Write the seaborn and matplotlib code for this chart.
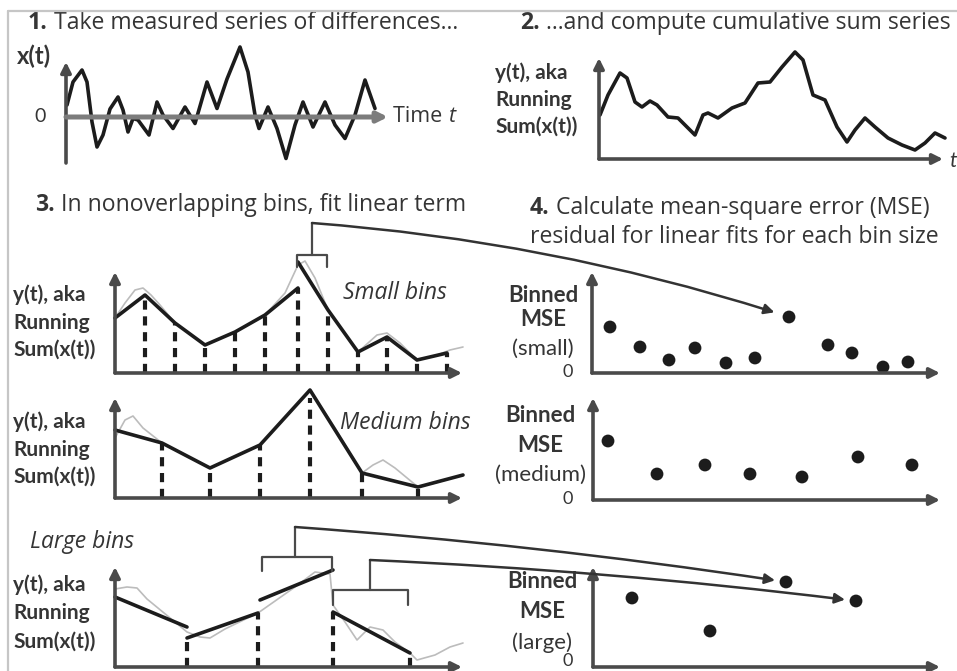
import matplotlib.pyplot as plt
import pandas as pd
import seaborn as sns
from matplotlib.patches import ConnectionPatch
from matplotlib.lines import Line2D

sns.set_theme(style='white')
plt.rcParams['font.family'] = ['Lato', 'DejaVu Sans']

W, H = 957, 671
INK = '#1c1c1c'
AXIS = '#4a4a4a'
GREY = '#bcbcbc'
TXT = '#353535'
TFONT = ['Open Sans', 'DejaVu Sans']

# 1. measured series of differences x(t)
diff_t = [1, 7, 16, 21, 26, 31, 37, 44, 52, 57, 62, 67, 72, 83, 91, 97, 107, 119, 129,
          141, 151, 161, 174, 182, 189, 193, 202, 211, 220, 229, 237, 247, 259, 269,
          279, 289, 299, 309]
diff_x = [12, 35, 47, 35, -5, -30, -18, 8, 20, 7, -15, -1.5, -3, -18, 15, 2, -11.5, 10, -6.5,
          35, 8.5, 38, 70, 45, 2, -11.5, 10, -11.5, -41.5, -8, 15, -10, 15, -8,
          -21.5, 2, 37, 8.5]

# 2. running sum y(t)
cum_t = [1, 9, 21, 28, 36, 43, 51, 58, 69, 79, 96, 104, 109, 119, 133, 146, 159, 171,
         183, 196, 204, 214, 226, 238, 248, 256, 266, 276, 289, 303, 316, 326, 336, 346]
cum_y = [44, 64, 86, 81, 57, 52, 58, 54, 42, 41, 24, 44, 46, 41, 51, 56, 76, 77,
         92, 107, 99, 64, 59, 32, 17, 29, 41, 32, 21, 14, 9, 16, 26, 21]

# 3. linear fits in bins (small / medium / large)
small_raw_t = [0, 10, 20, 28, 36, 45, 60, 90, 120, 150, 170, 183, 190, 200, 213,
               243, 262, 272, 285, 302, 320, 335, 348]
small_raw_v = [55, 70, 83, 85, 78, 68, 50, 28, 41, 58, 80, 108, 112, 95, 63,
               21, 38, 40, 30, 13, 17, 23, 26]
small_fit_seg = [0, 0, 0, 0, 0, 0, 0, 1, 1, 1, 1, 1, 1]
small_fit_t = [0, 30, 60, 90, 120, 150, 183, 183, 213, 243, 272, 302, 332]
small_fit_v = [55, 78, 50, 28, 41, 58, 85, 111, 63, 21, 36, 13, 20]
small_edges = [30, 60, 90, 120, 150, 183, 213, 243, 272, 302, 332]
small_edge_v = [78, 50, 28, 41, 58, 85, 63, 21, 36, 13, 20]

medium_raw_t = [0, 10, 18, 28, 47, 95, 145, 195, 220, 247, 258, 268, 280, 303, 320, 348]
medium_raw_v = [60, 78, 82, 70, 55, 30, 53, 108, 70, 25, 33, 38, 30, 11, 15, 23]
medium_fit_t = [0, 47, 95, 145, 195, 247, 303, 348]
medium_fit_v = [68, 55, 30, 53, 108, 25, 11, 23]
medium_edges = [47, 95, 145, 195, 247, 303]
medium_edge_v = [55, 30, 53, 108, 25, 11]

large_raw_t = [0, 12, 22, 32, 60, 72, 85, 95, 110, 143, 180, 200, 215, 218, 230,
               242, 255, 268, 280, 295, 302, 320, 335, 348]
large_raw_v = [78, 80, 79, 68, 45, 35, 30, 29, 38, 54, 80, 95, 93, 62, 45,
               27, 40, 37, 25, 14, 7, 12, 20, 24]
large_fit_seg = [0, 0, 1, 1, 2, 2, 3, 3]
large_fit_t = [0, 72, 72, 143, 145, 218, 218, 295]
large_fit_v = [70, 40, 29, 54, 67, 97, 55, 14]
large_edges = [72, 143, 218, 295]
large_edge_v = [29, 54, 55, 14]

# 4. binned MSE per bin
mse_small_t = [18, 48, 77, 103, 134, 163, 197, 236, 260, 291, 316]
mse_small_v = [46, 26, 13, 25, 10, 15, 56, 28, 20, 6, 11]
mse_medium_t = [15, 64, 112, 157, 209, 265, 319]
mse_medium_v = [59, 26, 35, 26, 23, 43, 35]
mse_large_t = [39, 117, 193, 263]
mse_large_v = [69, 36, 85, 66]

fig = plt.figure(figsize=(W / 100, H / 100), dpi=100)
fig.patch.set_facecolor('white')

# overlay in pixel coords for text
ov = fig.add_axes([0, 0, 1, 1])
ov.set_xlim(0, W)
ov.set_ylim(H, 0)
ov.axis('off')

fig.add_artist(Line2D([8 / W, 1], [1 - 11 / H, 1 - 11 / H], color='#c6c6c6', lw=1.6))
fig.add_artist(Line2D([8 / W, 8 / W], [0, 1 - 11 / H], color='#c6c6c6', lw=1.6))


def panel(x0, y0, x1, y1, ylo=0):
    ax = fig.add_axes([x0 / W, 1 - y1 / H, (x1 - x0) / W, (y1 - y0) / H])
    ax.set_xlim(0, x1 - x0)
    ax.set_ylim(ylo, ylo + (y1 - y0))
    ax.axis('off')
    return ax


def arrows(ax, y0=0, hcolor=AXIS, hlw=2.6):
    xmax = ax.get_xlim()[1]
    ylo, yhi = ax.get_ylim()
    ap = dict(arrowstyle='-|>,head_length=0.5,head_width=0.25', color=AXIS, lw=2.6,
              shrinkA=0, shrinkB=0, mutation_scale=12)
    ax.annotate('', xy=(0, yhi), xytext=(0, ylo), arrowprops=ap, annotation_clip=False)
    ap2 = dict(ap, color=hcolor, lw=hlw)
    ax.annotate('', xy=(xmax, y0), xytext=(0, y0), arrowprops=ap2, annotation_clip=False)


def title(x, y, num, rest):
    t = ov.text(x, y, num, fontsize=16.6, fontweight='bold', family=TFONT, color=TXT, va='center')
    ov.annotate(rest, xy=(1, 0.5), xycoords=t, fontsize=16.6, family=TFONT, color=TXT, va='center')


def ylabel3(x, ys, lines, ha='left', weights=('bold', 'bold', 'bold'), size=15):
    for yy, s, w in zip(ys, lines, weights):
        ov.text(x, yy, s, fontsize=size, fontweight=w, color=TXT, ha=ha, va='center')


def italic(x, y, s):
    ov.text(x, y, s, fontsize=16.5, style='italic', family=TFONT, color=TXT, va='center')


# ---- panel 1
ax1 = panel(66, 62, 388, 163, ylo=-46)
arrows(ax1, 0, hcolor='#7c7c7c', hlw=3.6)
sns.lineplot(x=diff_t, y=diff_x, ax=ax1, color=INK, lw=2.6, sort=False, clip_on=False)
title(28, 23, '1.', ' Take measured series of differences...')
ov.text(17, 56, 'x(t)', fontsize=17, fontweight='bold', color=TXT, va='center')
ov.text(40, 117, '0', fontsize=14, color=TXT, ha='center', va='center')
tt = ov.text(393, 117, 'Time ', fontsize=15.5, family=TFONT, color=TXT, va='center')
ov.annotate('t', xy=(1, 0.5), xycoords=tt, fontsize=15.5, family=TFONT, style='italic',
            color=TXT, va='center')

# ---- panel 2
ax2 = panel(599, 58, 943, 159)
arrows(ax2)
sns.lineplot(x=cum_t, y=cum_y, ax=ax2, color=INK, lw=2.6, sort=False, clip_on=False)
title(520, 23, '2.', ' ...and compute cumulative sum series')
ylabel3(495, [73, 100, 127], ['y(t), aka', 'Running', 'Sum(x(t))'])
ov.text(949, 161, 't', fontsize=15, style='italic', color=TXT, va='center')

# ---- panel 3
title(35, 205, '3.', ' In nonoverlapping bins, fit linear term')
bin_labels = ['y(t), aka', 'Running', 'Sum(x(t))']

ax_s = panel(115, 272, 462, 373)
arrows(ax_s)
sns.lineplot(x=small_raw_t, y=small_raw_v, ax=ax_s, color=GREY, lw=1.2, sort=False, clip_on=False)
df_s = pd.DataFrame({'t': small_fit_t, 'v': small_fit_v, 'seg': small_fit_seg})
sns.lineplot(data=df_s, x='t', y='v', units='seg', estimator=None, ax=ax_s, color=INK,
             lw=2.6, sort=False, clip_on=False)
ax_s.vlines(small_edges, 0, small_edge_v, colors=INK, linestyles=(0, (2.2, 1.6)), lw=3)
# bracket on the peak bin
ax_s.plot([182, 182, 212, 212], [106, 118, 118, 106], color=AXIS, lw=1.6, clip_on=False)
ax_s.plot([197, 197], [118, 150], color=AXIS, lw=1.6, clip_on=False)
ylabel3(13, [295, 323, 350], bin_labels)
italic(343, 293, 'Small bins')

ax_m = panel(115, 398, 462, 498)
arrows(ax_m)
sns.lineplot(x=medium_raw_t, y=medium_raw_v, ax=ax_m, color=GREY, lw=1.2, sort=False, clip_on=False)
sns.lineplot(x=medium_fit_t, y=medium_fit_v, ax=ax_m, color=INK, lw=2.6, sort=False, clip_on=False)
ax_m.vlines(medium_edges, 0, medium_edge_v, colors=INK, linestyles=(0, (2.2, 1.6)), lw=3)
ylabel3(13, [422, 450, 477], bin_labels)
italic(340, 423, 'Medium bins')

ax_l = panel(115, 567, 462, 667)
arrows(ax_l)
sns.lineplot(x=large_raw_t, y=large_raw_v, ax=ax_l, color=GREY, lw=1.2, sort=False, clip_on=False)
df_l = pd.DataFrame({'t': large_fit_t, 'v': large_fit_v, 'seg': large_fit_seg})
sns.lineplot(data=df_l, x='t', y='v', units='seg', estimator=None, ax=ax_l, color=INK,
             lw=2.6, sort=False, clip_on=False)
ax_l.vlines(large_edges, 0, large_edge_v, colors=INK, linestyles=(0, (2.2, 1.6)), lw=3)
ax_l.plot([147, 147, 217, 217], [96, 110, 110, 96], color=AXIS, lw=1.6, clip_on=False)
ax_l.plot([180, 180], [110, 140], color=AXIS, lw=1.6, clip_on=False)
ax_l.plot([218, 218, 293, 293], [62, 77, 77, 62], color=AXIS, lw=1.6, clip_on=False)
ax_l.plot([255, 255], [77, 107], color=AXIS, lw=1.6, clip_on=False)
ylabel3(13, [585, 613, 642], bin_labels)
italic(30, 542, 'Large bins')

# ---- panel 4
title(530, 208, '4.', ' Calculate mean-square error (MSE)')
ov.text(530, 237, 'residual for linear fits for each bin size', fontsize=16.6, family=TFONT,
        color=TXT, va='center')

mse_w = ('bold', 'bold', 'normal')
ax_ms = panel(592, 272, 940, 373)
arrows(ax_ms)
sns.scatterplot(x=mse_small_t, y=mse_small_v, ax=ax_ms, color=INK, s=85, edgecolor='none', clip_on=False)
ylabel3(543, [296, 320, 349], ['Binned', 'MSE', '(small)'], ha='center', weights=mse_w, size=16)
ov.text(568, 372, '0', fontsize=13, color=TXT, ha='center', va='center')

ax_mm = panel(593, 398, 940, 500)
arrows(ax_mm)
sns.scatterplot(x=mse_medium_t, y=mse_medium_v, ax=ax_mm, color=INK, s=85, edgecolor='none', clip_on=False)
ylabel3(540, [415, 445, 475], ['Binned', 'MSE', '(medium)'], ha='center', weights=mse_w, size=16)
ov.text(568, 499, '0', fontsize=13, color=TXT, ha='center', va='center')

ax_ml = panel(593, 567, 940, 667)
arrows(ax_ml)
sns.scatterplot(x=mse_large_t, y=mse_large_v, ax=ax_ml, color=INK, s=85, edgecolor='none', clip_on=False)
ylabel3(542, [582, 612, 643], ['Binned', 'MSE', '(large)'], ha='center', weights=mse_w, size=16)
ov.text(568, 661, '0', fontsize=13, color=TXT, ha='center', va='center')

# ---- connectors from bins to their MSE
con_style = dict(arrowstyle='-|>,head_length=0.5,head_width=0.25', mutation_scale=12,
                 color='#333333', lw=1.8, shrinkA=0)
for axA, xyA, axB, xyB, rad, shr in [
        (ax_s, (197, 150), ax_ms, (mse_small_t[6], mse_small_v[6]), -0.06, 11),
        (ax_l, (180, 140), ax_ml, (mse_large_t[2], mse_large_v[2]), -0.02, 8),
        (ax_l, (255, 107), ax_ml, (mse_large_t[3], mse_large_v[3]), -0.02, 8)]:
    con = ConnectionPatch(xyA=xyA, coordsA='data', axesA=axA, xyB=xyB, coordsB='data', axesB=axB,
                          connectionstyle=f'arc3,rad={rad}', shrinkB=shr, **con_style)
    con.set_annotation_clip(False)
    con.set_zorder(5)
    fig.add_artist(con)

fig.savefig('out.png', dpi=100)
